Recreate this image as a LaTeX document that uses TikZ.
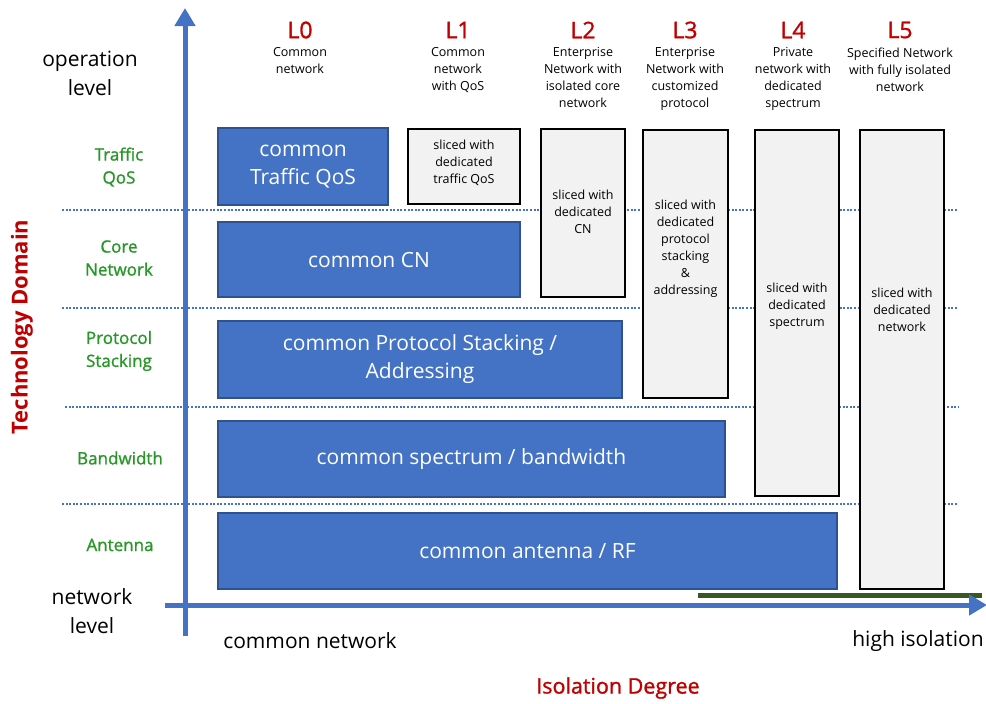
\documentclass[tikz,border=0pt]{standalone}
\usepackage{fontspec}
\setmainfont{Open Sans}
\newfontfamily\medfont{Open Sans}[FakeBold=1.2]
\usetikzlibrary{arrows.meta}
\definecolor{axisblue}{RGB}{68,114,196}
\definecolor{bordblue}{RGB}{47,82,143}
\definecolor{levelred}{RGB}{192,0,0}
\definecolor{domgreen}{RGB}{40,150,40}
\definecolor{slicegray}{RGB}{242,242,242}
\definecolor{bargreen}{RGB}{56,87,35}
\tikzset{
  commonbox/.style={draw=bordblue, fill=axisblue, line width=1.5pt, text=white, align=center,
    font=\fontsize{21}{28}\selectfont, inner sep=0pt},
  slicebox/.style={draw=black, fill=slicegray, line width=1.8pt, inner sep=0pt},
  slicetext/.style={align=center, font=\fontsize{12.5}{17}\selectfont},
  levelname/.style={text=levelred, font=\medfont\fontsize{23}{24}\selectfont},
  leveldesc/.style={align=center, anchor=north, font=\fontsize{12.5}{17}\selectfont},
  domlabel/.style={text=domgreen, align=center, font=\medfont\fontsize{17}{23}\selectfont},
  bigtext/.style={align=center, font=\fontsize{21}{29}\selectfont},
  axisline/.style={axisblue, line width=5pt, -{Triangle[length=18pt,width=20pt]}},
  rowline/.style={axisblue, line width=2pt, dash pattern=on 2pt off 1.6pt}
}
\begin{document}
\begin{tikzpicture}[x=1pt, y=-1pt]
  \useasboundingbox (0,0) rectangle (986,704);

  %%%%% rows %%%%%
  \foreach \yy/\xa in {210/62, 308/62, 407/65, 504/62}
    \draw[rowline] (\xa,\yy) -- (958,\yy);

  %%%%% common boxes %%%%%
  \node[commonbox, minimum width=170, minimum height=77] (cqos) at (303,166.5) {common\\Traffic QoS};
  \node[commonbox, minimum width=302, minimum height=75] (ccn) at (369,259.5) {common CN};
  \node[commonbox, minimum width=404, minimum height=77] (cps) at (420,359.5) {common Protocol Stacking /\\Addressing};
  \node[commonbox, minimum width=507, minimum height=76] (cbw) at (471.5,459) {common spectrum / bandwidth};
  \node[commonbox, minimum width=619, minimum height=76] (cant) at (527.5,551) {common antenna / RF};

  %%%%% sliced boxes %%%%%
  \node[slicebox, minimum width=112, minimum height=75] (s1) at (464,166.5) {};
  \node[slicebox, minimum width=84, minimum height=168] (s2) at (583,213) {};
  \node[slicebox, minimum width=85, minimum height=268] (s3) at (685.5,264) {};
  \node[slicebox, minimum width=84, minimum height=366] (s4) at (797,313) {};
  \node[slicebox, minimum width=84, minimum height=459] (s5) at (902,359.5) {};
  \node[slicetext] (t1) at (464,163) {sliced with\\dedicated\\traffic QoS};
  \node[slicetext] (t2) at (583,212) {sliced with\\dedicated\\CN};
  \node[slicetext] (t3) at (685.5,249) {sliced with\\dedicated\\protocol\\stacking\\\&\\addressing};
  \node[slicetext] (t4) at (797,306) {sliced with\\dedicated\\spectrum};
  \node[slicetext] (t5) at (902,310) {sliced with\\dedicated\\network};

  %%%%% levels %%%%%
  \node[levelname] (l0) at (300,30) {L0};
  \node[levelname] (l1) at (458,30) {L1};
  \node[levelname] (l2) at (583,30) {L2};
  \node[levelname] (l3) at (685,30) {L3};
  \node[levelname] (l4) at (793,30) {L4};
  \node[levelname] (l5) at (900,30) {L5};
  \node[leveldesc] (d0) at (300,44) {Common\\network};
  \node[leveldesc] (d1) at (458,44) {Common\\network\\with QoS};
  \node[leveldesc] (d2) at (583,44) {Enterprise\\Network with\\isolated core\\network};
  \node[leveldesc] (d3) at (685,44) {Enterprise\\Network with\\customized\\protocol};
  \node[leveldesc] (d4) at (793,44) {Private\\network with\\dedicated\\spectrum};
  \node[leveldesc] (d5) at (900,44) {Specified Network\\with fully isolated\\network};

  %%%%% domains %%%%%
  \node[bigtext] (oplev) at (90,73) {operation\\level};
  \node[domlabel] (dqos) at (119,167) {Traffic\\QoS};
  \node[domlabel] (dcn) at (119,258) {Core\\Network};
  \node[domlabel] (dps) at (119,351) {Protocol\\Stacking};
  \node[domlabel] (dbw) at (120,458) {Bandwidth};
  \node[domlabel] (dant) at (120,545) {Antenna};
  \node[bigtext] (netlev) at (92,611) {network\\level};
  \node[rotate=90, text=levelred, font=\bfseries\fontsize{22}{24}\selectfont] (techdom) at (22,327) {Technology Domain};

  %%%%% axes %%%%%
  \coordinate (origin) at (185,605);
  \draw[bargreen, line width=5pt] (698,595) -- (982,595);
  \draw[axisline] (185,636) -- (185,8);
  \draw[axisline] (165,605) -- (987,605);

  \node[bigtext] (lowiso) at (310,641) {common network};
  \node[bigtext] (highiso) at (918,641) {high isolation};
  \node[text=levelred, font=\medfont\fontsize{21.5}{24}\selectfont] (isodeg) at (618,688) {Isolation Degree};
\end{tikzpicture}
\end{document}
